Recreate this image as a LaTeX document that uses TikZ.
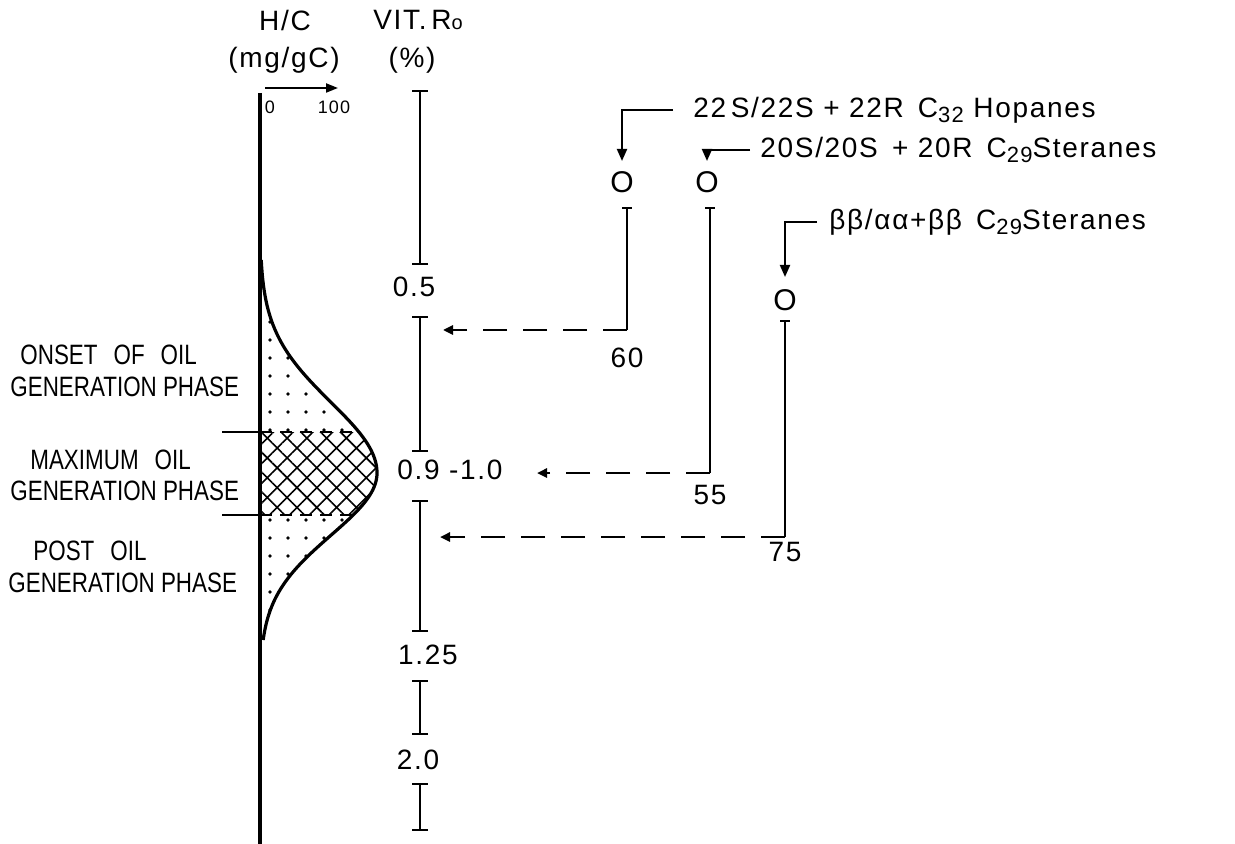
\documentclass[tikz,border=0pt]{standalone}
\usepackage{fontspec}
\setmainfont{Liberation Sans}[LetterSpace=6]
\newfontfamily\narrowfont{Liberation Sans}[FakeStretch=0.8]
\usetikzlibrary{arrows.meta,patterns.meta}
\tikzset{
  font=\fontsize{14}{16}\selectfont,
  declare function={gu(\t)=260+117*exp(-((\t-473)/100)*((\t-473)/100));
                    gl(\t)=260+117*exp(-((\t-473)/88)*((\t-473)/88));},
  axisline/.style ={line width=1.6pt},
  curveline/.style={line width=1.6pt},
  rangebar/.style ={line width=1pt, {Bar[width=8pt,line width=1pt]}-{Bar[width=8pt,line width=1pt]}},
  markbar/.style  ={line width=1pt, {Bar[width=5pt,line width=1pt]}-},
  hook/.style     ={line width=1pt, -{Triangle[length=6pt,width=5pt]}},
  lead/.style     ={line width=1.2pt, dash pattern=on 12pt off 8pt, -{Triangle[length=5pt,width=4.5pt]}},
  phase/.style    ={line width=1pt, dash pattern=on 6pt off 4pt},
  lbl/.style      ={inner sep=0pt},
  small/.style    ={inner sep=0pt, font=\fontsize{9}{10}\selectfont},
  ringmark/.style ={inner sep=0pt, font=\fontsize{15}{16}\selectfont},
  side/.style     ={inner sep=0pt, anchor=west, font=\narrowfont\fontsize{14}{16}\selectfont},
  speckle/.style  ={pattern={Dots[distance=9pt,radius=0.9pt]}},
  cross/.style    ={pattern={Hatch[angle=45,distance=7pt,line width=0.8pt]}},
}
\newcommand{\sub}[1]{\raisebox{-0.4ex}{\fontsize{11}{12}\selectfont #1}}

\begin{document}
\begin{tikzpicture}[x=0.5pt, y=-0.5pt]
  \fill[white] (0,0) rectangle (1235,844);
  \useasboundingbox (0,0) rectangle (1235,844);

  % headers
  \node[lbl] (hc)     at (285,20) {H/C};
  \node[lbl] (hcunit) at (284,60) {(mg/gC)};
  \node[lbl] (vit)    at (418,20) {VIT.\,R{\fontsize{10}{11}\selectfont o}};
  \node[lbl] (pct)    at (412,60) {(\%)};
  \node[small] (zero)    at (270,107) {0};
  \node[small] (hundred) at (334,107) {100};
  \coordinate (hcstart) at (265,88);
  \coordinate (hcend)   at (338,88);
  \draw[line width=1pt, -{Triangle[length=6pt,width=4.5pt]}] (hcstart) -- (hcend);

  % H/C axis and generation curve
  \fill[speckle] (260,260) -- plot[domain=260:432, samples=40, variable=\t] ({gu(\t)},\t) -- (260,432) -- cycle;
  \fill[speckle] (260,515) -- plot[domain=515:640, samples=40, variable=\t] ({gl(\t)},\t) -- (260,640) -- cycle;
  \fill[cross] (260,432) -- plot[domain=432:473, samples=20, variable=\t] ({gu(\t)},\t)
        -- plot[domain=473:515, samples=20, variable=\t] ({gl(\t)},\t) -- (260,515) -- cycle;
  \draw[axisline] (260,93) -- (260,844);
  \draw[curveline] plot[domain=260:473, samples=60, variable=\t] ({gu(\t)},\t) -- plot[domain=473:640, samples=60, variable=\t] ({gl(\t)},\t);
  \draw[line width=1pt] (222,432) -- (260,432);
  \draw[line width=1pt] (222,515) -- (260,515);
  \draw[phase] (260,432) -- ({gu(432)},432);
  \draw[phase] (260,515) -- ({gl(515)},515);

  % phase labels
  \node[side] (onset1) at (20,355) {ONSET\hspace{0.35em} OF\hspace{0.35em} OIL};
  \node[side] (onset2) at (10,387) {GENERATION PHASE};
  \node[side] (max1)   at (30,460) {MAXIMUM\hspace{0.35em} OIL};
  \node[side] (max2)   at (10,491) {GENERATION PHASE};
  \node[side] (post1)  at (33,551) {POST\hspace{0.35em} OIL};
  \node[side] (post2)  at (8,583)  {GENERATION PHASE};

  % vitrinite reflectance scale
  \node[lbl] (r05)  at (414,287) {0.5};
  \node[lbl] (r09)  at (450,470) {0.9 -1.0};
  \node[lbl] (r125) at (428,655) {1.25};
  \node[lbl] (r20)  at (418,760) {2.0};
  \foreach \ya/\yb in {90/265, 316/452, 500/632, 680/735, 783/831}
    \draw[rangebar] (420,\ya) -- (420,\yb);

  % biomarker ratios
  \node[lbl, anchor=west] (hop)  at (693,110) {22\,S/22S + 22R\enspace C\sub{32} Hopanes};
  \node[lbl, anchor=west] (ster) at (760,150) {20S/20S\, + 20R\enspace C\sub{29}Steranes};
  \node[lbl, anchor=west] (beta) at (829,222) {ββ/αα+ββ\enspace C\sub{29}Steranes};
  \node[ringmark] (hopO)  at (622,182) {O};
  \node[ringmark] (sterO) at (707,182) {O};
  \node[ringmark] (betaO) at (785,300) {O};
  \draw[hook, shorten <=10pt, shorten >=5pt] (hop.west) -| (hopO.north);
  \draw[hook, shorten <=5pt, shorten >=5pt] (ster.west) -| (sterO.north);
  \draw[hook, shorten <=6pt, shorten >=6pt] (beta.west) -| (betaO.north);

  \coordinate (hopTop)   at (627,207);
  \coordinate (hopBend)  at (627,330);
  \coordinate (hopEnd)   at (443,330);
  \coordinate (sterTop)  at (710,207);
  \coordinate (sterBend) at (710,473);
  \coordinate (sterEnd)  at (537,473);
  \coordinate (betaTop)  at (785,320);
  \coordinate (betaBend) at (785,537);
  \coordinate (betaEnd)  at (440,537);
  \draw[markbar] (hopTop) -- (hopBend);
  \draw[lead] (hopBend) -- (hopEnd);
  \draw[markbar] (sterTop) -- (sterBend);
  \draw[lead] (sterBend) -- (sterEnd);
  \draw[markbar] (betaTop) -- (betaBend);
  \draw[lead] (betaBend) -- (betaEnd);
  \node[lbl] (v60) at (627,358) {60};
  \node[lbl] (v55) at (710,495) {55};
  \node[lbl] (v75) at (785,552) {75};
\end{tikzpicture}
\end{document}
